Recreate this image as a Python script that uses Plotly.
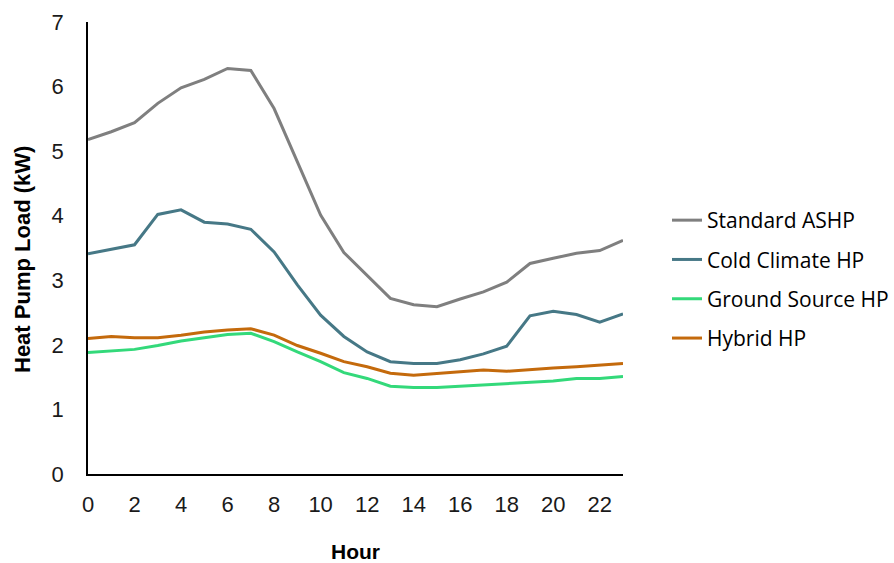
import plotly.graph_objects as go

hours = list(range(24))
standard_ashp = [5.18, 5.30, 5.44, 5.74, 5.98, 6.11, 6.28, 6.25, 5.66, 4.84, 4.01, 3.43,
                 3.07, 2.72, 2.62, 2.59, 2.71, 2.82, 2.97, 3.26, 3.34, 3.42, 3.46, 3.62]
cold_climate = [3.41, 3.48, 3.55, 4.02, 4.09, 3.90, 3.87, 3.79, 3.44, 2.93, 2.46, 2.13,
                1.89, 1.74, 1.71, 1.71, 1.77, 1.86, 1.98, 2.45, 2.52, 2.47, 2.35, 2.48]
ground_source = [1.88, 1.90, 1.93, 1.99, 2.06, 2.11, 2.16, 2.18, 2.05, 1.89, 1.74, 1.57,
                 1.48, 1.36, 1.34, 1.34, 1.36, 1.38, 1.39, 1.41, 1.44, 1.48, 1.48, 1.51]
hybrid = [2.10, 2.13, 2.11, 2.11, 2.15, 2.20, 2.23, 2.25, 2.15, 1.99, 1.87, 1.74,
          1.66, 1.56, 1.53, 1.56, 1.58, 1.61, 1.59, 1.62, 1.64, 1.66, 1.68, 1.71]

series = [
    ("Standard ASHP", standard_ashp, "#7F7F7F"),
    ("Cold Climate HP", cold_climate, "#467886"),
    ("Ground Source HP", ground_source, "#33D97A"),
    ("Hybrid HP", hybrid, "#C46A0C"),
]

fig = go.Figure()
for name, vals, color in series:
    fig.add_trace(go.Scatter(x=hours, y=vals, mode="lines", name=name, legendgroup=name,
                             line=dict(color=color, width=3)))

W, H = 894, 563
L, R, T, B = 88, 271, 22, 89
PW, PH = W - L - R, H - T - B

fig.update_layout(
    width=W, height=H,
    margin=dict(l=L, r=R, t=T, b=B, autoexpand=False),
    paper_bgcolor="white", plot_bgcolor="white",
    font=dict(family="Liberation Sans, Arial, sans-serif", size=22, color="#1a1a1a"),
    showlegend=True,
    legend=dict(
        x=(667 - L) / PW, y=(H - B - 200) / PH,
        xanchor="left", yanchor="top",
        font=dict(family="Open Sans, sans-serif", size=21, color="#000000"),
        itemwidth=30, tracegroupgap=9, traceorder="grouped",
        bgcolor="rgba(0,0,0,0)",
    ),
    xaxis=dict(
        range=[0, 23], tickmode="array", tickvals=list(range(0, 23, 2)),
        showgrid=False, zeroline=False, showline=True, linecolor="#000000", linewidth=1.5,
        ticks="", ticklabelstandoff=10, automargin=False,
        tickfont=dict(size=22, color="#1a1a1a"),
        title=dict(text="<b>Hour</b>", font=dict(size=21, color="#000000"), standoff=34),
    ),
    yaxis=dict(
        range=[0, 7], tickmode="array", tickvals=list(range(0, 8)),
        showgrid=False, zeroline=False, showline=True, linecolor="#000000", linewidth=1.5,
        ticks="", ticklabelstandoff=18, automargin=False,
        tickfont=dict(size=22, color="#1a1a1a"),
    ),
    annotations=[dict(
        text="<b>Heat Pump Load (kW)</b>", textangle=-90,
        xref="paper", yref="paper", x=(22 - L) / PW, y=(H - B - 260) / PH,
        xanchor="center", yanchor="middle", showarrow=False,
        font=dict(size=22, color="#000000"),
    )],
)

fig.write_html("out.html")
